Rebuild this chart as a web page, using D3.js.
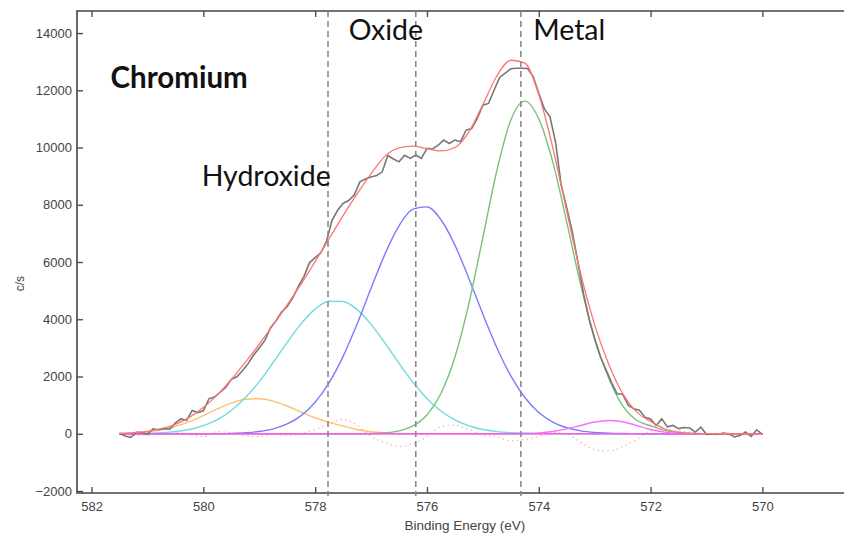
<!DOCTYPE html>
<html>
<head>
<meta charset="utf-8">
<script src="https://cdn.jsdelivr.net/npm/d3@7"></script>
<style>
  body { margin: 0; background: #fff; }
  .tick text { font-family: "Liberation Sans", Arial, sans-serif; font-size: 13px; fill: #444; }
  .note { font-family: Lato, "Open Sans", sans-serif; fill: #111; }
</style>
</head>
<body>
<div id="chart1"></div>
<script>
"use strict";

// == DATA ==
// measured spectrum, 0.1 eV steps from 581.5 eV down to 570.0 eV
var spectrumStart = 581.5, spectrumStep = 0.1;
var spectrum = [
  20, -80, -130, 50, 40, -20, 170, 140, 180, 160,
  380, 520, 470, 810, 740, 800, 1220, 1280, 1450, 1620,
  1900, 1990, 2200, 2450, 2750, 3000, 3260, 3700, 3950, 4250,
  4450, 4750, 5150, 5500, 5980, 6150, 6320, 6700, 7450, 7800,
  8050, 8150, 8350, 8800, 8900, 8970, 9020, 9150, 9720, 9600,
  9500, 9730, 9620, 9740, 9620, 9970, 9950, 10080, 10260, 10140,
  10260, 10200, 10610, 10660, 11020, 11480, 11540, 12000, 12450, 12600,
  12750, 12770, 12770, 12760, 12480, 11900, 11350, 11080, 10200, 8700,
  7900, 7050, 6000, 4900, 4000, 3300, 2700, 2250, 1800, 1400,
  1380, 1000, 870, 820, 580, 520, 290, 520, 240, 290,
  180, 220, 200, 60, 230, -20, -10, -25, 20, 0,
  -110, -60, 60, -90, 140, -20
];

// fitted curves, 0.25 eV steps from 581.5 eV down to 570.0 eV
var fitStart = 581.5, fitStep = 0.25;
var envelope = [16, 38, 85, 175, 331, 572, 916, 1359, 1896, 2493, 3127, 3800, 4503, 5239, 6014, 6812,
  7620, 8380, 9080, 9700, 9990, 10050, 9960, 9880, 10000, 10550, 11500, 12500, 13050, 12950, 11850,
  10000, 7780, 5590, 3805, 2434, 1407, 763, 431, 175, 55, 13, 2, 0, 0, 0, 0];
var peakOrange = [13, 31, 69, 139, 255, 422, 635, 866, 1071, 1203, 1224, 1140, 970, 760, 560, 400,
  270, 150, 70, 30, 10, 0, 0, 0, 0, 0, 0, 0, 0, 0, 0, 0, 0, 0, 0, 0, 0, 0, 0, 0, 0, 0, 0, 0, 0, 0, 0];
var peakCyan = [3, 7, 16, 36, 76, 150, 281, 493, 811, 1255, 1823, 2489, 3192, 3846, 4354, 4627,
  4620, 4336, 3822, 3164, 2462, 1799, 1235, 796, 482, 274, 147, 74, 35, 15, 6, 3, 1,
  0, 0, 0, 0, 0, 0, 0, 0, 0, 0, 0, 0, 0, 0];
var peakBlue = [0, 0, 0, 0, 1, 1, 2, 5, 14, 35, 80, 171, 341, 633, 1100, 1785, 2705, 3835, 5080,
  6285, 7266, 7850, 7925, 7476, 6590, 5428, 4178, 3006, 2019, 1268, 744, 408, 209, 100, 45, 19, 7,
  3, 1, 0, 0, 0, 0, 0, 0, 0, 0];
var peakGreen = [0, 0, 0, 0, 0, 0, 0, 0, 0, 0, 0, 0, 0, 0, 0, 0, 0, 0, 10, 33, 101, 273, 657, 1407,
  2683, 4548, 6854, 9190, 10959, 11620, 11000, 9500, 7400, 5200, 3350, 1950, 980, 470, 280, 120,
  40, 10, 0, 0, 0, 0, 0];
var peakMagenta = [0, 0, 0, 0, 0, 0, 0, 0, 0, 0, 0, 0, 0, 0, 0, 0, 0, 0, 0, 0, 0, 0, 0, 0, 0, 0,
  0, 0, 0, 8, 30, 80, 170, 290, 410, 465, 420, 290, 150, 55, 15, 3, 0, 0, 0, 0, 0];
var residual = [0, -60, -40, 0, 40, -30, -100, 80, 30, -60, -100, -20, -60, 0, 150, 350, 500, 300,
  -100, -300, -450, -350, -100, 250, 300, 150, -50, -100, -250, -200, -100, 50, 0, -300, -550, -600,
  -450, -200, 100, 150, 100, 50, 0, -20, -50, 0, 0];

var peakMarkers = [577.77, 576.2, 574.32];
var xTicks = [582, 580, 578, 576, 574, 572, 570];
var yTicks = [-2000, 0, 2000, 4000, 6000, 8000, 10000, 12000, 14000];

// == BOILERPLATE ==
var margin = { top: 11, right: 0, bottom: 40, left: 77 },
    width = 844 - margin.left - margin.right,
    height = 533 - margin.top - margin.bottom;

var svg = d3.select("#chart1")
  .append("svg")
  .attr("width", 844)
  .attr("height", 533)
  .append("g")
  .attr("transform", "translate(" + margin.left + "," + margin.top + ")");

var x = d3.scaleLinear().domain([582.26, 568.54]).range([0, width]);
var y = d3.scaleLinear().domain([-2070, 14770]).range([height, 0]);

function points(values, start, step) {
  return values.map(function (v, i) { return [start - i * step, v]; });
}

var line = d3.line()
  .x(function (d) { return x(d[0]); })
  .y(function (d) { return y(d[1]); });
var smooth = d3.line()
  .x(function (d) { return x(d[0]); })
  .y(function (d) { return y(d[1]); })
  .curve(d3.curveMonotoneX);

// == AXES ==
var tickFmt = d3.format("d");
svg.append("g")
  .attr("transform", "translate(0," + height + ")")
  .call(d3.axisBottom(x).tickValues(xTicks).tickSize(-6).tickPadding(9).tickFormat(tickFmt))
  .call(function (g) { g.select(".domain").remove(); });
svg.append("g")
  .call(d3.axisTop(x).tickValues(xTicks).tickSize(-6).tickFormat(""))
  .call(function (g) { g.select(".domain").remove(); });
svg.append("g")
  .call(d3.axisLeft(y).tickValues(yTicks).tickSize(-6).tickPadding(5).tickFormat(tickFmt))
  .call(function (g) { g.select(".domain").remove(); });
svg.selectAll(".tick line").attr("stroke", "#444").attr("stroke-width", 1.3);

// frame (right edge falls outside the picture)
svg.append("path")
  .attr("d", "M" + (width + 5) + ",0H0V" + height + "H" + (width + 5))
  .attr("fill", "none")
  .attr("stroke", "#444")
  .attr("stroke-width", 1.6);

svg.append("text")
  .attr("transform", "translate(-53," + (y(5000) - 7) + ") rotate(-90)")
  .attr("text-anchor", "middle")
  .style("font-family", "Liberation Sans, Arial, sans-serif")
  .style("font-size", "12px")
  .style("fill", "#444")
  .text("c/s");

svg.append("text")
  .attr("x", x(575.32))
  .attr("y", height + 37)
  .attr("text-anchor", "middle")
  .style("font-family", "Liberation Sans, Arial, sans-serif")
  .style("font-size", "13.5px")
  .style("fill", "#444")
  .text("Binding Energy (eV)");

// == VIZUALIZATION SHAPES ==
svg.append("path")
  .attr("d", smooth(points(residual, fitStart, fitStep)))
  .attr("fill", "none")
  .attr("stroke", "#ffa8a8")
  .attr("stroke-width", 1.3)
  .attr("stroke-dasharray", "1.3,3.5");

var components = [
  { values: peakOrange, color: "#ffc170" },
  { values: peakCyan, color: "#6fdada" },
  { values: peakBlue, color: "#7b7bff" },
  { values: peakGreen, color: "#78c278" },
  { values: peakMagenta, color: "#ff6cff" }
];
svg.selectAll(".component")
  .data(components)
  .enter()
  .append("path")
  .attr("class", "component")
  .attr("d", function (d) { return smooth(points(d.values, fitStart, fitStep)); })
  .attr("fill", "none")
  .attr("stroke", function (d) { return d.color; })
  .attr("stroke-width", 1.4);

svg.append("path")
  .attr("d", line([[581.5, 0], [570, 0]]))
  .attr("stroke", "#f060ea")
  .attr("stroke-width", 1.6);

svg.append("path")
  .attr("d", line(points(spectrum, spectrumStart, spectrumStep)))
  .attr("fill", "none")
  .attr("stroke", "#777")
  .attr("stroke-width", 1.6);

svg.append("path")
  .attr("d", smooth(points(envelope, fitStart, fitStep)))
  .attr("fill", "none")
  .attr("stroke", "#ff7474")
  .attr("stroke-width", 1.3);

svg.selectAll(".marker")
  .data(peakMarkers)
  .enter()
  .append("line")
  .attr("class", "marker")
  .attr("x1", function (d) { return x(d); })
  .attr("x2", function (d) { return x(d); })
  .attr("y1", 0)
  .attr("y2", height + 3)
  .attr("stroke", "#8a8a8a")
  .attr("stroke-width", 1.6)
  .attr("stroke-dasharray", "6,4");

// == LABELS ==
var notes = [
  { text: "Chromium", e: 581.66, v: 12080, bold: true },
  { text: "Hydroxide", e: 580.03, v: 8650, bold: false },
  { text: "Oxide", e: 577.4, v: 13750, bold: false },
  { text: "Metal", e: 574.10, v: 13750, bold: false }
];
svg.selectAll(".note")
  .data(notes)
  .enter()
  .append("text")
  .attr("class", "note")
  .attr("x", function (d) { return x(d.e); })
  .attr("y", function (d) { return y(d.v); })
  .style("font-weight", function (d) { return d.bold ? "bold" : "normal"; })
  .style("font-size", function (d) { return d.bold ? "29.5px" : "28.5px"; })
  .text(function (d) { return d.text; });
</script>
</body>
</html>
